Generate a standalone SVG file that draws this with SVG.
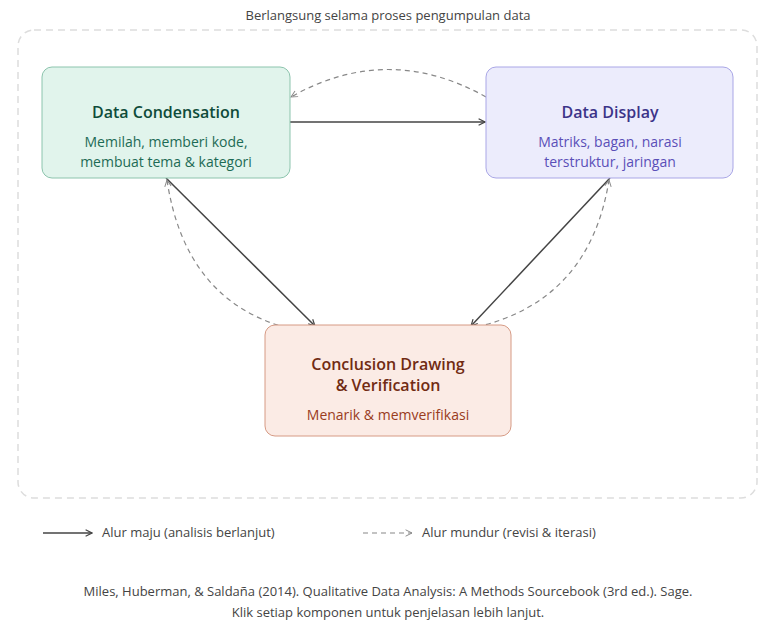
<svg xmlns="http://www.w3.org/2000/svg" width="776" height="626" viewBox="0 0 776 626">
<style>
text{font-family:"Segoe UI","Open Sans","Noto Sans",sans-serif}
.t{font-size:16px;font-weight:600;text-anchor:middle}
.s{font-size:14px;text-anchor:middle}
.g{font-size:13px;fill:#444}
.f{stroke:#444;stroke-width:1.5;fill:none}
.b{stroke:#888;stroke-width:1.2;fill:none;stroke-dasharray:5 4}
</style>
<defs>
<marker id="ma" viewBox="0 0 10 10" refX="9" refY="5" markerWidth="8" markerHeight="8" orient="auto-start-reverse" markerUnits="userSpaceOnUse"><path d="M1,1 L9,5 L1,9" fill="none" stroke="#444" stroke-width="1.5"/></marker>
<marker id="mb" viewBox="0 0 10 10" refX="9" refY="5" markerWidth="8" markerHeight="8" orient="auto-start-reverse" markerUnits="userSpaceOnUse"><path d="M1,1 L9,5 L1,9" fill="none" stroke="#888" stroke-width="1.2"/></marker>
</defs>
<rect width="776" height="626" fill="#fff"/>
<rect x="18" y="30" width="739" height="468" rx="16" fill="none" stroke="#ddd" stroke-width="1.5" stroke-dasharray="7 5"/>
<text x="388" y="20" text-anchor="middle" class="g">Berlangsung selama proses pengumpulan data</text>
<g id="connectors">
<line class="f" x1="290" y1="122" x2="485" y2="122" marker-end="url(#ma)"/>
<line class="f" x1="166" y1="178" x2="315" y2="326" marker-end="url(#ma)"/>
<line class="f" x1="610" y1="178" x2="471" y2="326" marker-end="url(#ma)"/>
<path class="b" d="M486,97 Q388,42 291,97" marker-end="url(#mb)"/>
<path class="b" d="M287,328 Q185,300 167,180" marker-end="url(#mb)"/>
<path class="b" d="M477,327 Q590,300 609,180" marker-end="url(#mb)"/>
</g>
<g id="dc">
<rect x="42" y="67" width="248" height="111" rx="10" fill="#e1f4ec" stroke="#8cc4ad"/>
<text x="166" y="118" class="t" fill="#0f4c3a">Data Condensation</text>
<text x="166" y="147" class="s" fill="#1d6b55">Memilah, memberi kode,</text>
<text x="166" y="167" class="s" fill="#1d6b55">membuat tema &amp; kategori</text>
</g>
<g id="dd">
<rect x="486" y="67" width="247" height="111" rx="10" fill="#ececfc" stroke="#a9a6e6"/>
<text x="610" y="118" class="t" fill="#3c3489">Data Display</text>
<text x="610" y="147" class="s" fill="#5a4fb8">Matriks, bagan, narasi</text>
<text x="610" y="167" class="s" fill="#5a4fb8">terstruktur, jaringan</text>
</g>
<g id="cd">
<rect x="265" y="325" width="246" height="111" rx="10" fill="#fbebe5" stroke="#d69a84"/>
<text x="388" y="370" class="t" fill="#712b13">Conclusion Drawing</text>
<text x="388" y="391" class="t" fill="#712b13">&amp; Verification</text>
<text x="388" y="420" class="s" fill="#993c1d">Menarik &amp; memverifikasi</text>
</g>
<g id="legend">
<line class="f" x1="43" y1="533" x2="92" y2="533" marker-end="url(#ma)"/>
<text x="102" y="537" class="g">Alur maju (analisis berlanjut)</text>
<line class="b" x1="363" y1="533" x2="412" y2="533" marker-end="url(#mb)"/>
<text x="422" y="537" class="g">Alur mundur (revisi &amp; iterasi)</text>
</g>
<text x="388" y="596" text-anchor="middle" class="g">Miles, Huberman, &amp; Saldaña (2014). Qualitative Data Analysis: A Methods Sourcebook (3rd ed.). Sage.</text>
<text x="388" y="617" text-anchor="middle" class="g">Klik setiap komponen untuk penjelasan lebih lanjut.</text>
</svg>
